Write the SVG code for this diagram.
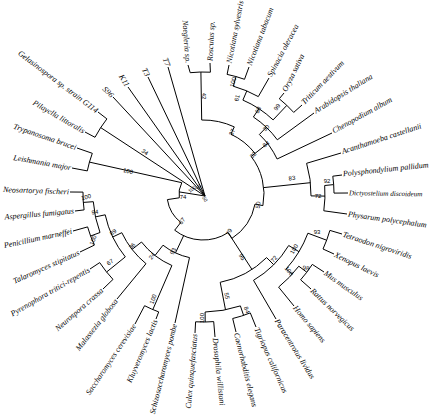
<svg xmlns="http://www.w3.org/2000/svg" width="429" height="419" viewBox="0 0 429 419">
<style>
.ln{fill:none;stroke:#000;stroke-width:1}
.sp{font-family:"Liberation Serif",serif;font-style:italic;font-size:8px;fill:#000}
.spl{font-family:"Liberation Serif",serif;font-style:italic;font-size:8px;fill:#000;text-anchor:end}
.bs{font-family:"Liberation Sans",sans-serif;font-size:6px;fill:#000;text-anchor:middle}
.bs5{font-size:5px}
.sm{font-size:7.1px}
</style>
<rect width="429" height="419" fill="#fff"/>
<g id="connectors" class="ln">
<path d="M205,196 L179.1,191.9"/>
<path d="M181.8,182.7 A24,24 0 0,0 179.3,197.8 L167.4,199.6 A36,36 0 0,0 180.8,222.4 L174.7,230.2 A46,46 0 0,0 228.1,232.6 L231.9,238.4 A53,53 0 0,0 255,204.1 L262.9,205.6 A61,61 0 0,0 251.1,156.4 L255,153.4 A66,66 0 0,0 230.9,134.2 L234.3,126.9 A74,74 0 0,0 201.7,120 L200.9,72"/>
<path d="M181.8,182.7 L89.4,162.1 M77,148 L92.3,153.3 A118,118 0 0,0 87.3,170.9 L72,168"/>
<path d="M205,196 L100.7,127.6 M98,112 L106.9,118.9 A122,122 0 0,0 95,137.3 L85,132"/>
<path d="M205,196 L113,97 M205,196 L128,87 M205,196 L148,77 M205,196 L168,67"/>
<path d="M183.6,235.7 L175.5,252.9 M163,245.2 A65,65 0 0,0 189.5,257.6 L175,323 M163,245.2 L155,255.5 M141.5,242 A78,78 0 0,0 171.9,265.5 L152.8,309.6 M135,324 L144.6,305.7 A126,126 0 0,0 158.7,311.9 L156,319 M141.5,242 L132.1,249.4 M121.8,232.7 A90,90 0 0,0 146,263.7 L117,299 M121.8,232.7 L112.7,237 M105.2,214.8 A100,100 0 0,0 125.3,256.9 L106.6,272 M90,269 L99.7,262.6 A124,124 0 0,0 113,279.4 L103,289 M105.2,214.8 L95.4,216.9 M93.3,201.7 A110,110 0 0,0 100,232.5 L90.6,236 M93.3,201.7 L83.3,202.4 M70,192 L83,192.1 A120,120 0 0,0 84.1,209.9 L75,211 M73,231 L87.6,226.9 A120,120 0 0,0 94.4,245.1 L80,252"/>
<path d="M228.1,232.6 L252,269.5 M220.2,282.3 A90,90 0 0,0 266.6,257.6 M220.2,282.3 L225.5,309.8 M205.1,312 A118,118 0 0,0 240.4,305.9 M205.1,312 L205.2,322 M195,333 L195.6,321.8 A128,128 0 0,0 213.7,321.6 L215,337 M240.4,305.9 L243.6,315.4 M236,332 L232.7,318.5 A128,128 0 0,0 250.3,312.9 L256,327 M266.6,257.6 L273.7,264.7 M253.5,280.3 A100,100 0 0,0 288.7,245.5 M253.5,280.3 L276,319 M288.7,245.5 L299,251.7 M286.2,268.9 A112,112 0 0,0 307.9,233.2 L326.6,240.2 M342,234 L329.9,230.4 A132,132 0 0,1 323,249 L334,254 M286.2,268.9 L292.2,274.3 M298.8,266.2 A120,120 0 0,1 278.6,287.1 L294,306 M298.8,266.2 L306.8,272.2 M324,272 L312.3,264.4 A130,130 0 0,1 300.6,279.8 L311,289"/>
<path d="M263.7,187.6 L310.4,182.7 M306.6,163.3 A108,108 0 0,1 311,195.9 L325,196.1 M341,153 L306.6,163.3 M324.7,185.5 A122,122 0 0,1 323.8,210.8 L347,214 M324.7,185.5 L333.7,184.6 M342,175 L332.8,176.2 A131,131 0 0,1 334,193.1 L348,193"/>
<path d="M255,153.4 L267.6,143.5 M259.4,134.5 A82,82 0 0,1 277.1,159 L332,133 M259.4,134.5 L266.3,127.3 M253.4,117 A92,92 0 0,1 277.3,139.8 L314,113 M253.4,117 L258.9,108.7 M242.9,100.1 A102,102 0 0,1 273.1,119.9 L286.8,105.4 M284,93 L279.3,98.8 A122,122 0 0,1 293.7,112.4 L302,105 M242.9,100.1 L246.8,90.9 M233.3,86.2 A112,112 0 0,1 258.3,96.6 L269,78 M233.3,86.2 L236,76.6 M229,65 L227.1,74.4 A122,122 0 0,1 244.5,79.3 L249,67 M188,65 L190.2,72.7 A122,122 0 0,1 210.4,72.2 L210,63"/>
</g>
<g id="leaves">
<text class="spl" transform="translate(188,64) rotate(86)" x="-1" dy=".3em">Naegleria sp.</text>
<text class="sp" transform="translate(210,62) rotate(-87)" x="1" dy=".3em">Rosculus sp.</text>
<text class="sp" transform="translate(229,64) rotate(-79)" x="1" dy=".3em">Nicotiana sylvestris</text>
<text class="sp" transform="translate(249,66) rotate(-69)" x="1" dy=".3em">Nicotiana tabacum</text>
<text class="sp" transform="translate(269,77) rotate(-62)" x="1" dy=".3em">Spinacia oleracea</text>
<text class="sp" transform="translate(284,92) rotate(-64)" x="1" dy=".3em">Oryza sativa</text>
<text class="sp" transform="translate(302,104) rotate(-46)" x="1" dy=".3em">Triticum aestivum</text>
<text class="sp" transform="translate(314,112) rotate(-32)" x="1" dy=".3em">Arabidopsis thaliana</text>
<text class="sp" transform="translate(332,132) rotate(-29)" x="1" dy=".3em">Chenopodium album</text>
<text class="sp" transform="translate(341,152) rotate(-18)" x="1" dy=".3em">Acanthamoeba castellanii</text>
<text class="sp" transform="translate(342,174) rotate(-6)" x="1" dy=".3em">Polysphondylium pallidum</text>
<text class="sp sm" transform="translate(348,193) rotate(1)" x="1" dy=".3em">Dictyostelium discoideum</text>
<text class="sp" transform="translate(347,214) rotate(8)" x="1" dy=".3em">Physarum polycephalum</text>
<text class="sp" transform="translate(342,234) rotate(18)" x="1" dy=".3em">Tetraodon nigroviridis</text>
<text class="sp" transform="translate(334,254) rotate(26)" x="1" dy=".3em">Xenopus laevis</text>
<text class="sp" transform="translate(324,272) rotate(35)" x="1" dy=".3em">Mus musculus</text>
<text class="sp" transform="translate(311,289) rotate(44)" x="1" dy=".3em">Rattus norvegicus</text>
<text class="sp" transform="translate(294,306) rotate(50)" x="1" dy=".3em">Homo sapiens</text>
<text class="sp" transform="translate(276,319) rotate(58)" x="1" dy=".3em">Paracentrotus lividus</text>
<text class="sp" transform="translate(256,327) rotate(66)" x="1" dy=".3em">Tigriopus californicus</text>
<text class="sp" transform="translate(236,332) rotate(76)" x="1" dy=".3em">Caenorhabditis elegans</text>
<text class="sp" transform="translate(215,337) rotate(84)" x="1" dy=".3em">Drosophila willistoni</text>
<text class="spl" transform="translate(195,333) rotate(-85)" x="-1" dy=".3em">Culex quinquefasciatus</text>
<text class="spl" transform="translate(175,323) rotate(-76)" x="-1" dy=".3em">Schizosaccharomyces pombe</text>
<text class="spl" transform="translate(156,319) rotate(-67)" x="-1" dy=".3em">Kluyveromyces lactis</text>
<text class="spl" transform="translate(135,324) rotate(-56)" x="-1" dy=".3em">Saccharomyces cerevisiae</text>
<text class="spl" transform="translate(117,299) rotate(-52)" x="-1" dy=".3em">Malassezia globosa</text>
<text class="spl" transform="translate(103,289) rotate(-41)" x="-1" dy=".3em">Neurospora crassa</text>
<text class="spl" transform="translate(90,269) rotate(-30)" x="-1" dy=".3em">Pyrenophora tritici-repentis</text>
<text class="spl" transform="translate(80,252) rotate(-24)" x="-1" dy=".3em">Talaromyces stipitatus</text>
<text class="spl" transform="translate(73,231) rotate(-12)" x="-1" dy=".3em">Penicillium marneffei</text>
<text class="spl" transform="translate(75,211) rotate(-5)" x="-1" dy=".3em">Aspergillus fumigatus</text>
<text class="spl" transform="translate(70,192) rotate(2)" x="-1" dy=".3em">Neosartorya fischeri</text>
<text class="spl" transform="translate(72,168) rotate(10)" x="-1" dy=".3em">Leishmania major</text>
<text class="spl" transform="translate(77,148) rotate(19)" x="-1" dy=".3em">Trypanosoma brucei</text>
<text class="spl" transform="translate(85,132) rotate(30)" x="-1" dy=".3em">Pilayella littoralis</text>
<text class="spl" transform="translate(98,112) rotate(37)" x="-1" dy=".3em">Gelasinospora sp. strain G114</text>
<text class="spl" transform="translate(113,97) rotate(45)" x="-1" dy=".3em">S96</text>
<text class="spl" transform="translate(128,87) rotate(58)" x="-1" dy=".3em">K11</text>
<text class="spl" transform="translate(148,77) rotate(64)" x="-1" dy=".3em">T3</text>
<text class="spl" transform="translate(168,67) rotate(72)" x="-1" dy=".3em">T7</text>
</g>
<g id="support">
<text class="bs" transform="translate(204,96) rotate(90)" dy=".35em">42</text>
<text class="bs" transform="translate(233,82) rotate(-75)" dy=".35em">100</text>
<text class="bs" transform="translate(237,98) rotate(-75)" dy=".35em">61</text>
<text class="bs" transform="translate(258,110) rotate(-60)" dy=".35em">68</text>
<text class="bs" transform="translate(277,107) rotate(-55)" dy=".35em">99</text>
<text class="bs" transform="translate(266,128) rotate(-45)" dy=".35em">30</text>
<text class="bs" transform="translate(266,144) rotate(-35)" dy=".35em">84</text>
<text class="bs" transform="translate(232,132) rotate(-65)" dy=".35em">37</text>
<text class="bs" transform="translate(253,155) rotate(-45)" dy=".35em">32</text>
<text class="bs" transform="translate(292,178) rotate(-5)" dy=".35em">83</text>
<text class="bs" transform="translate(327,181)" dy=".35em">92</text>
<text class="bs" transform="translate(318,196)" dy=".35em">72</text>
<text class="bs" transform="translate(258,205) rotate(-80)" dy=".35em">50</text>
<text class="bs" transform="translate(229,232) rotate(-60)" dy=".35em">79</text>
<text class="bs" transform="translate(242,257) rotate(58)" dy=".35em">95</text>
<text class="bs" transform="translate(227,296) rotate(80)" dy=".35em">55</text>
<text class="bs" transform="translate(202,318) rotate(-90)" dy=".35em">100</text>
<text class="bs" transform="translate(247,310) rotate(70)" dy=".35em">84</text>
<text class="bs" transform="translate(274,259) rotate(-50)" dy=".35em">72</text>
<text class="bs" transform="translate(294,249) rotate(-60)" dy=".35em">100</text>
<text class="bs" transform="translate(317,232)" dy=".35em">93</text>
<text class="bs" transform="translate(289,271) rotate(50)" dy=".35em">100</text>
<text class="bs" transform="translate(306,268) rotate(10)" dy=".35em">98</text>
<text class="bs" transform="translate(182,221) rotate(-50)" dy=".35em">67</text>
<text class="bs" transform="translate(183,197)" dy=".35em">74</text>
<text class="bs" transform="translate(173,251) rotate(-65)" dy=".35em">93</text>
<text class="bs" transform="translate(152,256) rotate(-50)" dy=".35em">24</text>
<text class="bs" transform="translate(132,246) rotate(-45)" dy=".35em">36</text>
<text class="bs" transform="translate(113,232) rotate(-35)" dy=".35em">89</text>
<text class="bs" transform="translate(110,262) rotate(-35)" dy=".35em">67</text>
<text class="bs" transform="translate(95,212) rotate(-5)" dy=".35em">94</text>
<text class="bs" transform="translate(93,240) rotate(-70)" dy=".35em">100</text>
<text class="bs" transform="translate(86,197) rotate(-15)" dy=".35em">100</text>
<text class="bs" transform="translate(153,299) rotate(-70)" dy=".35em">100</text>
<text class="bs" transform="translate(128,171) rotate(12)" dy=".35em">100</text>
<text class="bs" transform="translate(145,152) rotate(35)" dy=".35em">34</text>
<text class="bs bs5" transform="translate(192,189) rotate(-40)" dy=".35em">100</text>
<text class="bs bs5" transform="translate(199,187) rotate(-60)" dy=".35em">50</text>
<text class="bs bs5" transform="translate(205,199) rotate(60)" dy=".35em">50</text>
</g>
</svg>
